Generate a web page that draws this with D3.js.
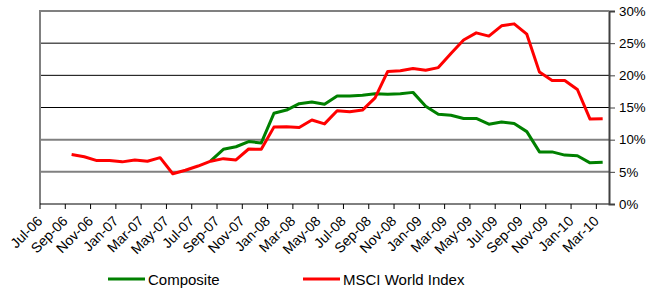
<!DOCTYPE html>
<html>
<head>
<meta charset="utf-8">
<script src="https://cdn.jsdelivr.net/npm/d3@7"></script>
<style>
  html, body { margin: 0; padding: 0; background: #fff; }
  svg { display: block; font-family: Arial, "Liberation Sans", sans-serif; }
</style>
</head>
<body>
<div id="chart"></div>
<script>
// months on the category axis
const months = [
  "Jul-06", "Aug-06", "Sep-06", "Oct-06", "Nov-06", "Dec-06",
  "Jan-07", "Feb-07", "Mar-07", "Apr-07", "May-07", "Jun-07",
  "Jul-07", "Aug-07", "Sep-07", "Oct-07", "Nov-07", "Dec-07",
  "Jan-08", "Feb-08", "Mar-08", "Apr-08", "May-08", "Jun-08",
  "Jul-08", "Aug-08", "Sep-08", "Oct-08", "Nov-08", "Dec-08",
  "Jan-09", "Feb-09", "Mar-09", "Apr-09", "May-09", "Jun-09",
  "Jul-09", "Aug-09", "Sep-09", "Oct-09", "Nov-09", "Dec-09",
  "Jan-10", "Feb-10", "Mar-10"
];

// values in %
const composite = [
  null, null, null, null, null, null, null, null, null, null, null, null, null,
  6.7, 8.5, 8.9, 9.7, 9.5,
  14.1, 14.6, 15.6, 15.85, 15.5, 16.8, 16.8, 16.9, 17.15, 17.05, 17.15, 17.35,
  15.2, 13.95, 13.8, 13.3, 13.3, 12.4, 12.75, 12.5, 11.25,
  8.1, 8.1, 7.6, 7.5, 6.4, 6.5
];

const msci = [
  null, null,
  7.7, 7.35, 6.75, 6.75, 6.55, 6.85, 6.65, 7.2,
  4.7, 5.25, 5.9, 6.65, 7.05, 6.85, 8.55, 8.5,
  11.95, 12.0, 11.9, 13.05, 12.45, 14.5, 14.35, 14.6, 16.5,
  20.6, 20.7, 21.05, 20.8, 21.2, 23.4, 25.5, 26.6, 26.1, 27.7, 28.0, 26.4,
  20.5, 19.2, 19.2, 17.8, 13.2, 13.25
];

const yTicks = [0, 5, 10, 15, 20, 25, 30];
const seriesNames = ["Composite", "MSCI World Index"];
const seriesColors = ["#008000", "#ff0000"];

(function () {
  const width = 652;
  const height = 288;
  const plotL = 40, plotR = 609, plotT = 11, plotB = 204;

  const svg = d3.select("#chart")
    .append("svg")
    .attr("width", width)
    .attr("height", height);

  const x = d3.scaleBand().domain(months).range([plotL, plotR]).padding(0);
  const y = d3.scaleLinear().domain([0, 30]).range([plotB, plotT]);
  const cx = (d) => x(d) + x.bandwidth() / 2;

  // gridlines (Excel style: some grey, some black)
  const isBlack = (d) => d === 15 || d === 20 || d === 25;
  svg.append("g")
    .selectAll("line")
    .data(yTicks.filter((d) => d > 0))
    .join("line")
    .attr("x1", plotL)
    .attr("x2", plotR)
    .attr("y1", (d) => y(d))
    .attr("y2", (d) => y(d))
    .attr("stroke", (d) => (isBlack(d) ? "#000" : "#808080"))
    .attr("stroke-width", (d) => (isBlack(d) ? 1 : 2));

  // left border
  svg.append("line")
    .attr("x1", plotL).attr("x2", plotL)
    .attr("y1", plotT).attr("y2", plotB)
    .attr("stroke", "#808080")
    .attr("stroke-width", 2);

  // series lines
  [composite, msci].forEach((vals, si) => {
    const line = d3.line()
      .defined((d) => d != null)
      .x((d, i) => cx(months[i]))
      .y((d) => y(d));
    svg.append("path")
      .datum(vals)
      .attr("fill", "none")
      .attr("stroke", seriesColors[si])
      .attr("stroke-width", 3)
      .attr("stroke-linejoin", "round")
      .attr("d", line);
  });

  // bottom axis, ticks between every 2 categories
  const axisB = svg.append("g");
  axisB.append("line")
    .attr("x1", plotL).attr("x2", plotR)
    .attr("y1", plotB).attr("y2", plotB)
    .attr("stroke", "#000").attr("stroke-width", 1);
  const labeled = months.filter((d, i) => i % 2 === 0);
  axisB.selectAll("line.tick")
    .data(labeled)
    .join("line")
    .attr("class", "tick")
    .attr("x1", (d) => x(d)).attr("x2", (d) => x(d))
    .attr("y1", plotB).attr("y2", plotB + 5)
    .attr("stroke", "#000");
  axisB.selectAll("text")
    .data(labeled)
    .join("text")
    .attr("transform", (d) => `translate(${cx(d) - 3},${plotB + 18}) rotate(-45)`)
    .attr("text-anchor", "end")
    .attr("font-size", 14)
    .attr("fill", "#000")
    .text((d) => d);

  // right axis
  const axisR = d3.axisRight(y)
    .tickValues(yTicks)
    .tickSize(6)
    .tickFormat((d) => d + "%");
  const gR = svg.append("g")
    .attr("transform", `translate(${plotR},0)`)
    .call(axisR);
  gR.select(".domain").attr("stroke", "#404040").attr("stroke-width", 2);
  gR.selectAll(".tick line").attr("stroke", "#404040");
  gR.selectAll(".tick text")
    .attr("font-size", 13.3)
    .attr("font-family", "Arial, 'Liberation Sans', sans-serif")
    .attr("fill", "#000")
    .attr("x", 10);

  // top border
  svg.append("line")
    .attr("x1", plotL - 1).attr("x2", plotR)
    .attr("y1", plotT).attr("y2", plotT)
    .attr("stroke", "#808080")
    .attr("stroke-width", 2);

  // legend
  const legendX = [108, 303];
  const legend = svg.append("g");
  seriesNames.forEach((name, i) => {
    legend.append("line")
      .attr("x1", legendX[i]).attr("x2", legendX[i] + 37)
      .attr("y1", 279).attr("y2", 279)
      .attr("stroke", seriesColors[i])
      .attr("stroke-width", 3);
    legend.append("text")
      .attr("x", legendX[i] + 40)
      .attr("y", 284.5)
      .attr("font-size", 15)
      .attr("fill", "#000")
      .text(name);
  });
})();
</script>
</body>
</html>
